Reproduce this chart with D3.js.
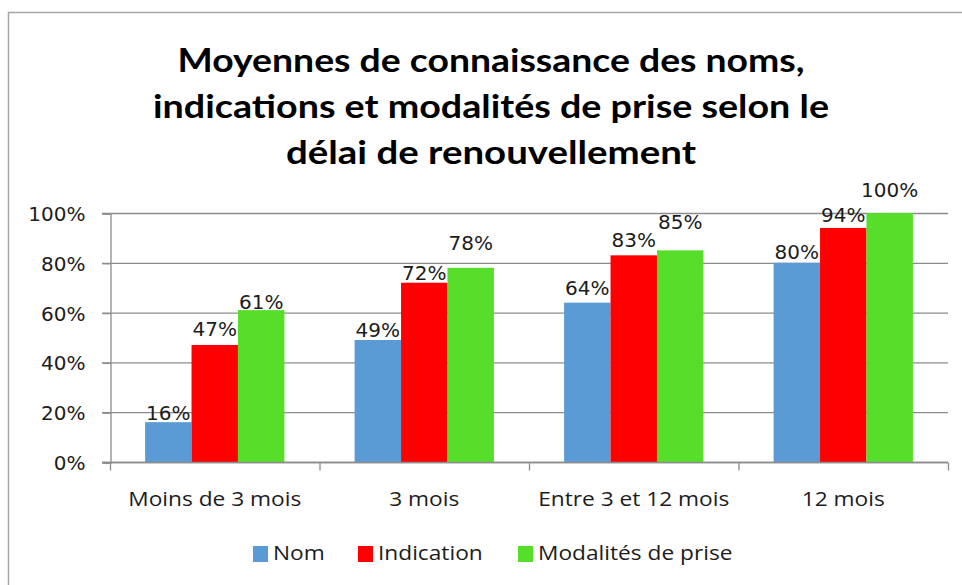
<!DOCTYPE html>
<html><head><meta charset="utf-8">
<script src="https://cdn.jsdelivr.net/npm/d3@7"></script>
<style>body{margin:0;background:#fff}svg{display:block}</style>
</head><body>
<svg id="c" width="962" height="585"></svg>
<script>
const categories = ["Moins de 3 mois", "3 mois", "Entre 3 et 12 mois", "12 mois"];
const seriesNames = ["Nom", "Indication", "Modalités de prise"];
const nomValues = [16, 49, 64, 80];
const indicationValues = [47, 72, 83, 94];
const modalitesValues = [61, 78, 85, 100];
const yTicks = [0, 20, 40, 60, 80, 100];
const titleLines = ["Moyennes de connaissance des noms,", "indications et modalités de prise selon le", "délai de renouvellement"];
const colors = ["#5B9BD5", "#FF0000", "#57DE2B"];
// label lift above bar top (px), per series, per category (as placed in the original)
const labelLift = [[2, 3, 8, 4], [9, 3, 8, 6], [1, 18, 21, 16]];

const series = [nomValues, indicationValues, modalitesValues];
const svg = d3.select("#c");
const sansC = "'Open Sans', Lato, sans-serif";
const sansT = "Lato, 'Open Sans', sans-serif";
const sansV = "'DejaVu Sans', Verdana, sans-serif";
const txt = "#1c1c1c";

svg.append("rect").attr("x", 8.5).attr("y", 12.5).attr("width", 960).attr("height", 600)
  .attr("fill", "#fff").attr("stroke", "#a6a6a6").attr("stroke-width", 1.5);

// title
const titleW = [627, 676, 410];
titleLines.forEach((t, i) => {
  svg.append("text").attr("x", 491).attr("y", 72 + i * 46)
    .attr("text-anchor", "middle").attr("font-family", sansT).attr("font-weight", "bold")
    .attr("font-size", 32).attr("fill", "#000")
    .attr("textLength", titleW[i]).attr("lengthAdjust", "spacingAndGlyphs").text(t);
});

const x0 = d3.scaleBand().domain(categories).range([110, 948]).paddingInner(0).paddingOuter(0);
const x1 = d3.scaleBand().domain(seriesNames).range([0, x0.bandwidth()]).paddingInner(0).paddingOuter(0.756);
const y = d3.scaleLinear().domain([0, 100]).range([462, 213]);

// gridlines
svg.append("g").selectAll("line").data(yTicks).join("line")
  .attr("x1", 102).attr("x2", 948).attr("y1", d => y(d) + 0.5).attr("y2", d => y(d) + 0.5)
  .attr("stroke", "#8c8c8c").attr("stroke-width", 1.3);

// bars
categories.forEach((c, ci) => {
  series.forEach((s, si) => {
    const v = s[ci];
    svg.append("rect").attr("x", x0(c) + x1(seriesNames[si])).attr("y", y(v))
      .attr("width", x1.bandwidth()).attr("height", y(0) - y(v)).attr("fill", colors[si]);
  });
});
// data labels
categories.forEach((c, ci) => {
  series.forEach((s, si) => {
    const v = s[ci];
    svg.append("text").attr("x", x0(c) + x1(seriesNames[si]) + x1.bandwidth() / 2)
      .attr("y", y(v) - labelLift[si][ci])
      .attr("text-anchor", "middle").attr("font-family", sansV).attr("font-size", 20)
      .attr("fill", txt).text(v + "%");
  });
});

// y axis
const yAxis = d3.axisLeft(y).tickValues(yTicks).tickFormat(d => d + "%").tickSize(8).tickPadding(17);
const ya = svg.append("g").attr("transform", "translate(110.5,0.5)").call(yAxis);
ya.select(".domain").attr("stroke", "#8c8c8c").attr("stroke-width", 1.3);
ya.selectAll(".tick line").attr("stroke", "#8c8c8c").attr("stroke-width", 1.3);
ya.selectAll(".tick text").attr("font-family", sansV).attr("font-size", 20).attr("fill", txt).attr("dy", "0.35em");

// x axis
const xa = svg.append("g").attr("transform", "translate(0,462.5)");
xa.append("line").attr("x1", 102).attr("x2", 948).attr("stroke", "#8c8c8c").attr("stroke-width", 1.3);
const bounds = categories.map(c => x0(c)).concat([x0.range()[1]]);
xa.selectAll("line.t").data(bounds).join("line").attr("class", "t")
  .attr("x1", d => d + 0.5).attr("x2", d => d + 0.5).attr("y1", 0).attr("y2", 8)
  .attr("stroke", "#8c8c8c").attr("stroke-width", 1.3);
const catText = xa.selectAll("text").data(categories).join("text")
  .attr("x", d => x0(d) + x0.bandwidth() / 2).attr("y", 43)
  .attr("text-anchor", "middle").attr("font-family", sansC).attr("font-size", 20).attr("fill", txt).text(d => d);

// width fit: Calibri-like proportions (reference "Moins de 3 mois" ≈ 173px)
const natural = catText.nodes()[0].getComputedTextLength();
const k = 173 / natural;
catText.each(function () {
  d3.select(this).attr("textLength", this.getComputedTextLength() * k).attr("lengthAdjust", "spacingAndGlyphs");
});

// legend
const legX = [253, 358, 518];
seriesNames.forEach((n, i) => {
  svg.append("rect").attr("x", legX[i]).attr("y", 546).attr("width", 15).attr("height", 16).attr("fill", colors[i]);
  const t = svg.append("text").attr("x", legX[i] + 20).attr("y", 560).attr("font-family", sansC).attr("font-size", 20)
    .attr("fill", txt).text(n);
  t.attr("textLength", t.node().getComputedTextLength() * k).attr("lengthAdjust", "spacingAndGlyphs");
});
</script>
</body></html>
